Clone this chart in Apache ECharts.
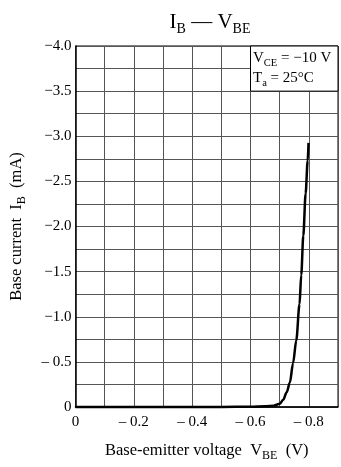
<!DOCTYPE html>
<html>
<head>
<meta charset="utf-8">
<script src="https://cdn.jsdelivr.net/npm/echarts@6/dist/echarts.min.js"></script>
<style>
html,body{margin:0;padding:0;background:#fff;}
#c{width:341px;height:467px;}
</style>
</head>
<body>
<div id="c"></div>
<script>
// Data
var vbe = [0, -0.2, -0.4, -0.5, -0.6, -0.65, -0.68, -0.70, -0.712, -0.724, -0.735, -0.746, -0.757, -0.768, -0.774, -0.781, -0.789, -0.796, -0.799];
var ib  = [0, 0, 0, -0.001, -0.003, -0.007, -0.015, -0.035, -0.08, -0.163, -0.271, -0.488, -0.740, -1.138, -1.463, -1.897, -2.366, -2.728, -2.927];

var xTickValues = [0, -0.2, -0.4, -0.6, -0.8];
var xTickLabels = ['0', '\u2013 0.2', '\u2013 0.4', '\u2013 0.6', '\u2013 0.8'];
var yTickValues = [0, -0.5, -1.0, -1.5, -2.0, -2.5, -3.0, -3.5, -4.0];
var yTickLabels = ['0', '\u2013 0.5', '\u22121.0', '\u22121.5', '\u22122.0', '\u22122.5', '\u22123.0', '\u22123.5', '\u22124.0'];

function lookup(vals, labels, v) {
  for (var i = 0; i < vals.length; i++) {
    if (Math.abs(vals[i] - v) < 1e-6) return labels[i];
  }
  return '';
}

var FONT = 'Liberation Serif';
var pts = vbe.map(function (x, i) { return [x, ib[i]]; });

var chart = echarts.init(document.getElementById('c'), null, {renderer: 'canvas'});
chart.setOption({
  animation: false,
  backgroundColor: '#fff',
  title: {
    text: '{a|I}{b|B}{a| \u2014 V}{b|BE}',
    left: 205, textAlign: 'center', top: 3,
    textStyle: {
      fontWeight: 'normal',
      rich: {
        a: {fontFamily: FONT, fontSize: 21, fontWeight: 'normal', color: '#000', lineHeight: 28, verticalAlign: 'middle'},
        b: {fontFamily: FONT, fontSize: 14, fontWeight: 'normal', color: '#000', lineHeight: 14, verticalAlign: 'bottom'}
      }
    }
  },
  grid: {left: 71, top: 46, width: 272, height: 369, show: true, borderColor: '#000', borderWidth: 1, backgroundColor: 'transparent'},
  xAxis: {
    type: 'value', min: -0.9, max: 0, interval: 0.1, inverse: true,
    name: '{n|Base-emitter voltage  V}{s|BE}{n|  (V)}',
    nameLocation: 'middle', nameGap: 33,
    nameTextStyle: {
      rich: {
        n: {fontFamily: FONT, fontSize: 16.5, color: '#000', lineHeight: 22, verticalAlign: 'middle'},
        s: {fontFamily: FONT, fontSize: 12, color: '#000', lineHeight: 12, verticalAlign: 'bottom'}
      }
    },
    axisLine: {show: true, lineStyle: {color: '#000', width: 1.5}},
    axisTick: {show: false},
    axisLabel: {
      fontFamily: FONT, fontSize: 15, color: '#000', margin: 8,
      formatter: function (v) { return lookup(xTickValues, xTickLabels, v); }
    },
    splitLine: {show: true, lineStyle: {color: '#555', width: 1}}
  },
  yAxis: {
    type: 'value', min: -4, max: 0, interval: 0.25, inverse: true,
    name: '{n|Base current  I}{s|B}{n|  (mA)}',
    nameLocation: 'middle', nameGap: 48, nameRotate: 90,
    nameTextStyle: {
      rich: {
        n: {fontFamily: FONT, fontSize: 16.5, color: '#000', lineHeight: 22, verticalAlign: 'middle'},
        s: {fontFamily: FONT, fontSize: 12, color: '#000', lineHeight: 12, verticalAlign: 'bottom'}
      }
    },
    axisLine: {show: true, lineStyle: {color: '#000', width: 1.5}},
    axisTick: {show: false},
    axisLabel: {
      fontFamily: FONT, fontSize: 15, color: '#000', margin: 4,
      formatter: function (v) { return lookup(yTickValues, yTickLabels, v); }
    },
    splitLine: {show: true, lineStyle: {color: '#555', width: 1}}
  },
  series: [{
    type: 'line',
    data: pts,
    showSymbol: false,
    smooth: 0.3,
    smoothMonotone: 'x',
    clip: false,
    lineStyle: {color: '#000', width: 2.5},
    markArea: {
      silent: true,
      itemStyle: {color: '#fff', borderColor: '#000', borderWidth: 1},
      label: {
        show: true, position: 'insideTopLeft', distance: 3,
        formatter: '{n|V}{s|CE}{n| = \u221210 V}\n{n|T}{s|a}{n| = 25\u00b0C}',
        rich: {
          n: {fontFamily: FONT, fontSize: 15, color: '#000', lineHeight: 20, verticalAlign: 'middle'},
          s: {fontFamily: FONT, fontSize: 10.5, color: '#000', lineHeight: 10, verticalAlign: 'bottom'}
        }
      },
      data: [[{coord: [-0.6, -4]}, {coord: [-0.9, -3.5]}]]
    }
  }]
});
</script>
</body>
</html>
